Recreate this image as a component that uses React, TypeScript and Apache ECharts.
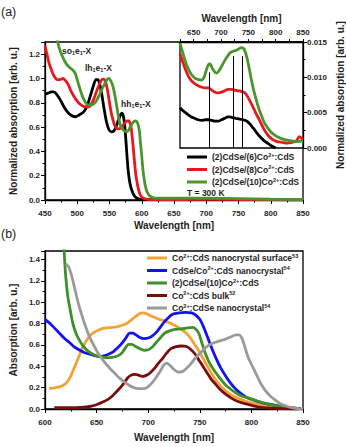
import React, { useEffect, useRef } from "react";
import * as echarts from "echarts";

type P = [number, number];

// ---------- Panel (a): main spectra (wavelength nm, normalized absorption) ----------
const blackA: P[] = [[450,0.87],[455,0.88],[460,0.89],[464,0.89],[468,0.87],[473,0.83],[478,0.78],[484,0.73],[491,0.695],[497,0.685],[503,0.70],[509,0.72],[513,0.75],[517,0.80],[521,0.87],[525,0.94],[529,0.99],[532,0.99],[535,0.95],[538,0.87],[541,0.77],[545,0.65],[549,0.58],[553,0.56],[557,0.57],[560,0.60],[564,0.66],[567,0.70],[569,0.715],[571,0.70],[573,0.64],[575,0.52],[577,0.37],[579,0.24],[582,0.13],[586,0.06],[590,0.025],[596,0.008],[605,0.003],[650,0.003],[750,0.003],[850,0.001]];
const redA: P[] = [[450,1.27],[453,1.2],[456,1.13],[460,1.07],[464,1.02],[469,0.99],[473,0.99],[478,1.0],[482,0.98],[486,0.95],[490,0.9],[494,0.86],[499,0.82],[504,0.79],[510,0.77],[515,0.765],[519,0.77],[523,0.8],[527,0.85],[531,0.91],[535,0.96],[538,0.99],[541,0.995],[544,0.97],[547,0.9],[550,0.8],[553,0.71],[557,0.63],[561,0.59],[565,0.585],[569,0.6],[573,0.63],[577,0.65],[580,0.65],[583,0.61],[585,0.53],[587,0.42],[589,0.3],[591,0.2],[594,0.11],[597,0.05],[601,0.02],[607,0.008],[620,0.003],[700,0.005],[760,0.004],[850,0.002]];
const greenA: P[] = [[462,1.5],[466,1.39],[470,1.29],[474,1.22],[478,1.17],[483,1.12],[488,1.09],[493,1.07],[497,1.04],[501,0.97],[505,0.9],[509,0.84],[513,0.8],[517,0.78],[521,0.78],[525,0.79],[529,0.81],[534,0.86],[538,0.91],[542,0.95],[546,0.99],[549,1.0],[552,0.98],[555,0.94],[558,0.87],[561,0.78],[564,0.68],[567,0.61],[570,0.585],[574,0.565],[578,0.565],[582,0.6],[586,0.635],[590,0.65],[593,0.64],[596,0.58],[598,0.47],[600,0.36],[602,0.24],[605,0.13],[608,0.07],[612,0.035],[617,0.02],[625,0.015],[700,0.015],[750,0.012],[800,0.006],[850,0.004]];

// ---------- Panel (a) inset ----------
const blackIn: P[] = [[625,0.0057],[630,0.0053],[635,0.005],[640,0.0047],[646,0.0044],[652,0.0042],[658,0.004],[665,0.0039],[671,0.004],[677,0.004],[683,0.0039],[689,0.0038],[695,0.0038],[701,0.004],[707,0.0042],[712,0.0044],[716,0.0044],[721,0.0043],[727,0.0042],[734,0.0041],[740,0.004],[745,0.0039],[749,0.0037],[754,0.0033],[759,0.0028],[764,0.0023],[769,0.0018],[774,0.0014],[779,0.001],[785,0.0007],[790,0.0004],[795,0.0002],[800,0.0]];
const redIn: P[] = [[625,0.0133],[630,0.0122],[635,0.0111],[640,0.0102],[646,0.0095],[652,0.0091],[658,0.0088],[665,0.0086],[671,0.0085],[677,0.0085],[683,0.0082],[689,0.0079],[695,0.0078],[701,0.0079],[707,0.0081],[713,0.0083],[719,0.0083],[725,0.0082],[731,0.0081],[737,0.008],[742,0.0079],[746,0.0076],[750,0.0071],[754,0.0065],[758,0.0059],[764,0.0049],[770,0.004],[775,0.0032],[779,0.0026],[785,0.0019],[791,0.0014],[797,0.0011],[803,0.0009],[812,0.0008],[821,0.0007],[830,0.0008],[838,0.001],[843,0.0016],[847,0.0014],[850,0.0012]];
const greenIn: P[] = [[625,0.0148],[630,0.0135],[635,0.0122],[640,0.0112],[646,0.0104],[652,0.0099],[658,0.0097],[664,0.0096],[669,0.01],[673,0.011],[677,0.0118],[680,0.0119],[684,0.0113],[688,0.0108],[692,0.0106],[697,0.011],[702,0.0117],[707,0.0124],[712,0.013],[717,0.0135],[722,0.0137],[727,0.0138],[732,0.014],[737,0.0142],[741,0.0141],[744,0.0137],[748,0.0126],[752,0.0111],[756,0.0095],[761,0.0078],[766,0.0064],[770,0.0054],[775,0.0044],[779,0.0036],[785,0.0029],[791,0.0023],[797,0.0019],[803,0.0016],[812,0.0013],[821,0.0011],[830,0.001],[840,0.0009],[850,0.001]];
const insetMarkerNm = [679, 723, 739];
const insetMarkerTop = [0.0107, 0.013, 0.013];

// ---------- Panel (b) ----------
const orangeB: P[] = [[604,0.19],[610,0.2],[615,0.21],[619,0.23],[622,0.26],[625,0.31],[628,0.38],[632,0.47],[636,0.57],[640,0.64],[644,0.69],[648,0.72],[652,0.74],[656,0.755],[660,0.76],[665,0.765],[670,0.77],[675,0.785],[679,0.8],[683,0.83],[687,0.86],[691,0.89],[695,0.9],[699,0.89],[703,0.87],[707,0.855],[711,0.84],[716,0.825],[722,0.8],[728,0.77],[733,0.74],[738,0.7],[742,0.65],[746,0.59],[750,0.53],[754,0.46],[758,0.39],[763,0.31],[768,0.24],[774,0.18],[780,0.135],[787,0.1],[794,0.075],[802,0.055],[810,0.04],[818,0.03],[826,0.022],[834,0.014],[842,0.007],[848,0.003]];
const blueB: P[] = [[600,0.84],[605,0.8],[609,0.76],[614,0.71],[619,0.66],[624,0.62],[628,0.585],[633,0.555],[638,0.53],[643,0.515],[648,0.5],[653,0.49],[658,0.5],[662,0.515],[666,0.535],[670,0.57],[674,0.61],[678,0.66],[682,0.71],[685,0.71],[688,0.695],[692,0.67],[696,0.66],[700,0.665],[704,0.685],[708,0.72],[712,0.77],[716,0.82],[720,0.86],[724,0.89],[730,0.9],[736,0.905],[742,0.9],[746,0.88],[750,0.84],[754,0.76],[758,0.66],[762,0.56],[766,0.47],[770,0.39],[775,0.31],[780,0.24],[785,0.185],[790,0.145],[795,0.11],[802,0.085],[810,0.06],[818,0.045],[826,0.03],[834,0.018],[842,0.008],[848,0.003]];
const greenB: P[] = [[616,1.9],[617.5,1.65],[618.5,1.48],[620,1.25],[622,1.06],[624,0.95],[627,0.8],[630,0.71],[633,0.65],[637,0.59],[642,0.54],[647,0.51],[653,0.49],[660,0.48],[666,0.485],[671,0.5],[675,0.53],[678,0.575],[681,0.605],[684,0.605],[688,0.585],[692,0.565],[696,0.55],[700,0.555],[704,0.58],[708,0.625],[712,0.67],[716,0.71],[720,0.73],[726,0.745],[732,0.75],[738,0.76],[743,0.765],[746,0.75],[749,0.71],[752,0.62],[755,0.53],[759,0.44],[763,0.375],[767,0.32],[771,0.27],[775,0.225],[780,0.185],[785,0.15],[791,0.12],[798,0.1],[806,0.075],[814,0.05],[822,0.035],[830,0.02],[838,0.012],[846,0.005]];
const darkRedB: P[] = [[609,0.012],[620,0.012],[630,0.013],[640,0.02],[646,0.03],[651,0.045],[656,0.065],[661,0.09],[665,0.12],[669,0.16],[673,0.2],[677,0.25],[680,0.29],[683,0.315],[687,0.325],[690,0.32],[694,0.305],[698,0.315],[702,0.34],[706,0.38],[710,0.43],[714,0.475],[718,0.525],[722,0.565],[727,0.585],[732,0.59],[737,0.585],[741,0.56],[745,0.52],[749,0.46],[753,0.4],[757,0.34],[761,0.28],[765,0.235],[770,0.18],[775,0.14],[781,0.1],[787,0.07],[794,0.05],[802,0.03],[810,0.015],[820,0.008],[830,0.004],[845,0.0]];
const grayB: P[] = [[620,1.36],[623,1.33],[626,1.24],[629,1.12],[632,1.0],[635,0.9],[639,0.78],[643,0.68],[647,0.6],[651,0.53],[656,0.46],[661,0.4],[666,0.35],[671,0.3],[676,0.26],[681,0.225],[686,0.2],[691,0.19],[696,0.19],[700,0.21],[704,0.25],[708,0.3],[712,0.36],[715,0.41],[718,0.43],[721,0.41],[725,0.37],[729,0.345],[733,0.35],[737,0.38],[741,0.42],[745,0.47],[750,0.52],[755,0.57],[760,0.605],[765,0.625],[770,0.64],[775,0.655],[780,0.675],[785,0.695],[788,0.695],[791,0.66],[794,0.57],[797,0.48],[801,0.4],[805,0.32],[809,0.24],[813,0.18],[818,0.125],[823,0.085],[828,0.05],[833,0.03],[838,0.015],[845,0.003],[850,0.0]];

// ---------- Names / labels ----------
const namesA = ["(2)CdSe/(6)Co2+:CdS", "(2)CdSe/(8)Co2+:CdS", "(2)CdSe/(10)Co2+:CdS"];
const namesB = [
  "Co2+:CdS nanocrystal surface53",
  "CdSe/Co2+:CdS nanocrystal54",
  "(2)CdSe/(10)Co2+:CdS ",
  "Co2+:CdS bulk52",
  "Co2+:CdSe nanocrystal54",
];
const legendRich: Record<string, string> = {
  "(2)CdSe/(6)Co2+:CdS": "(2)CdSe/(6)Co{s|2+}:CdS",
  "(2)CdSe/(8)Co2+:CdS": "(2)CdSe/(8)Co{s|2+}:CdS",
  "(2)CdSe/(10)Co2+:CdS": "(2)CdSe/(10)Co{s|2+}:CdS",
  "Co2+:CdS nanocrystal surface53": "Co{s|2+}:CdS nanocrystal surface{s|53}",
  "CdSe/Co2+:CdS nanocrystal54": "CdSe/Co{s|2+}:CdS nanocrystal{s|54}",
  "(2)CdSe/(10)Co2+:CdS ": "(2)CdSe/(10)Co{s|2+}:CdS",
  "Co2+:CdS bulk52": "Co{s|2+}:CdS bulk{s|52}",
  "Co2+:CdSe nanocrystal54": "Co{s|2+}:CdSe nanocrystal{s|54}",
};
const colorsA = ["#000000", "#e8181c", "#48962c"];
const colorsB = ["#f3a236", "#1212f2", "#3f8f2a", "#7a0c0c", "#9a9a9a"];

const FONT = "'Liberation Sans', Arial, Helvetica, sans-serif";
const TXT = "#1e1e1e";

function isMult(v: number, step: number) {
  const r = v / step;
  return Math.abs(r - Math.round(r)) < 1e-6;
}

function xAxisBase(extra: any) {
  return {
    type: "value",
    axisLine: { show: true, onZero: false, lineStyle: { color: "#000", width: 1.3 } },
    axisTick: { show: true, inside: false, length: 4, lineStyle: { color: "#000", width: 1 } },
    minorTick: { show: true, splitNumber: 2, length: 2.5, lineStyle: { color: "#000", width: 1 } },
    splitLine: { show: false },
    minorSplitLine: { show: false },
    axisLabel: { fontSize: 8, fontWeight: "bold", color: TXT, fontFamily: FONT, margin: 9 },
    nameLocation: "middle",
    nameTextStyle: { fontSize: 10, fontWeight: "bold", color: TXT, fontFamily: FONT },
    ...extra,
  };
}

function lineSeries(name: string, data: P[], color: string, xi: number, yi: number, extra: any = {}) {
  return {
    type: "line",
    name,
    data,
    xAxisIndex: xi,
    yAxisIndex: yi,
    showSymbol: false,
    symbol: "none",
    smooth: 0.25,
    clip: true,
    color,
    lineStyle: { color, width: 2.8 },
    emphasis: { disabled: true },
    ...extra,
  };
}

const richSup = {
  s: { fontSize: 5.5, fontWeight: "bold", fontFamily: FONT, color: TXT, lineHeight: 6, verticalAlign: "top" },
};

const option: any = {
  animation: false,
  backgroundColor: "#fff",
  textStyle: { fontFamily: FONT },
  grid: [
    { left: 43, top: 42, width: 260, height: 158, show: true, borderColor: "#000", borderWidth: 1.3, backgroundColor: "transparent" },
    { left: 180, top: 42, width: 123, height: 106, show: true, borderColor: "#000", borderWidth: 1.3, backgroundColor: "#fff" },
    { left: 43, top: 251, width: 260, height: 158, show: true, borderColor: "#000", borderWidth: 1.3, backgroundColor: "transparent" },
  ],
  xAxis: [
    xAxisBase({ gridIndex: 0, min: 450, max: 850, interval: 50, name: "Wavelength [nm]", nameGap: 20 }),
    xAxisBase({
      gridIndex: 1, position: "top", min: 625, max: 850, interval: 25,
      name: "Wavelength [nm]", nameGap: 19,
      minorTick: { show: false },
      axisTick: { show: true, inside: false, length: 3, lineStyle: { color: "#000", width: 1 } },
      axisLabel: { fontSize: 8, fontWeight: "bold", color: TXT, fontFamily: FONT, margin: 6, formatter: (v: number) => (isMult(v, 50) ? String(v) : "") },
    }),
    xAxisBase({ gridIndex: 2, min: 600, max: 850, interval: 50, name: "Wavelength [nm]", nameGap: 23 }),
  ],
  yAxis: [
    xAxisBase({
      gridIndex: 0, min: 0, max: 1.3, interval: 0.2,
      name: "Normalized absorption [arb. u.]", nameGap: 22, nameRotate: 90,
      axisLabel: { fontSize: 8, fontWeight: "bold", color: TXT, fontFamily: FONT, margin: 5, formatter: (v: number) => (isMult(v, 0.2) ? v.toFixed(1) : "") },
    }),
    xAxisBase({
      gridIndex: 1, position: "right", min: 0, max: 0.015, interval: 0.005,
      name: "Normalized absorption [arb. u.]", nameGap: 32, nameRotate: 90,
      axisLabel: { fontSize: 8, fontWeight: "bold", color: TXT, fontFamily: FONT, margin: 4, formatter: (v: number) => (isMult(v, 0.005) ? v.toFixed(3) : "") },
    }),
    xAxisBase({
      gridIndex: 2, min: 0, max: 1.48, interval: 0.2,
      name: "Absorption [arb. u.]", nameGap: 23, nameRotate: 90,
      axisLabel: { fontSize: 8, fontWeight: "bold", color: TXT, fontFamily: FONT, margin: 5, formatter: (v: number) => (isMult(v, 0.2) ? v.toFixed(1) : "") },
    }),
  ],
  legend: [
    {
      data: namesA, left: 187, top: 151.5, orient: "vertical", padding: 0,
      itemWidth: 20, itemHeight: 3, itemGap: 1.5, icon: "rect", selectedMode: false,
      textStyle: { fontSize: 8.5, fontWeight: "bold", color: TXT, fontFamily: FONT, lineHeight: 11, rich: richSup },
      formatter: (n: string) => legendRich[n] || n,
    },
    {
      data: namesB, left: 147, top: 252.5, orient: "vertical", padding: 0,
      itemWidth: 20, itemHeight: 3, itemGap: 1.5, icon: "rect", selectedMode: false,
      textStyle: { fontSize: 8.5, fontWeight: "bold", color: TXT, fontFamily: FONT, lineHeight: 11, rich: richSup },
      formatter: (n: string) => legendRich[n] || n,
    },
  ],
  series: [
    lineSeries(namesA[0], blackA, colorsA[0], 0, 0),
    lineSeries(namesA[1], redA, colorsA[1], 0, 0),
    lineSeries(namesA[2], greenA, colorsA[2], 0, 0),
    lineSeries(namesA[0], blackIn, colorsA[0], 1, 1, { smooth: 0.2 }),
    lineSeries(namesA[1], redIn, colorsA[1], 1, 1, { smooth: 0.2 }),
    lineSeries(namesA[2], greenIn, colorsA[2], 1, 1, {
      smooth: 0.2,
      markLine: {
        silent: true,
        symbol: ["none", "none"],
        label: { show: false },
        lineStyle: { color: "#000", width: 1, type: "solid" },
        emphasis: { disabled: true },
        data: insetMarkerNm.map((nm, i) => [{ coord: [nm, 0] }, { coord: [nm, insetMarkerTop[i]] }]),
      },
    }),
    lineSeries(namesB[0], orangeB, colorsB[0], 2, 2),
    lineSeries(namesB[1], blueB, colorsB[1], 2, 2),
    lineSeries(namesB[2], greenB, colorsB[2], 2, 2),
    lineSeries(namesB[3], darkRedB, colorsB[3], 2, 2),
    lineSeries(namesB[4], grayB, colorsB[4], 2, 2),
  ],
  graphic: [
    { type: "text", left: 1, top: 5, style: { text: "(a)", fontSize: 12.5, fill: TXT, fontFamily: FONT } },
    { type: "text", left: 1, top: 227, style: { text: "(b)", fontSize: 12.5, fill: TXT, fontFamily: FONT } },
    { type: "text", left: 187, top: 188, style: { text: "T = 300 K", fontSize: 8.5, fontWeight: "bold", fill: TXT, fontFamily: FONT } },
    ...[
      { t: "so{d|1}e{d|1}-X", x: 62, y: 45 },
      { t: "lh{d|1}e{d|1}-X", x: 85, y: 62 },
      { t: "hh{d|1}e{d|1}-X", x: 121, y: 98 },
    ].map((a) => ({
      type: "text",
      left: a.x,
      top: a.y,
      style: {
        text: a.t,
        fontSize: 8.5,
        fontWeight: "bold",
        fill: TXT,
        fontFamily: FONT,
        lineHeight: 11,
        rich: { d: { fontSize: 5.5, fontWeight: "bold", fontFamily: FONT, fill: TXT, lineHeight: 6, verticalAlign: "bottom" } },
      },
    })),
  ],
};

export default function App() {
  const ref = useRef<HTMLDivElement>(null);
  useEffect(() => {
    const chart = echarts.init(ref.current!, null, { renderer: "svg" });
    chart.setOption(option);
    return () => chart.dispose();
  }, []);
  return <div ref={ref} style={{ position: "absolute", left: 0, top: 0, width: 346, height: 447 }} />;
}
